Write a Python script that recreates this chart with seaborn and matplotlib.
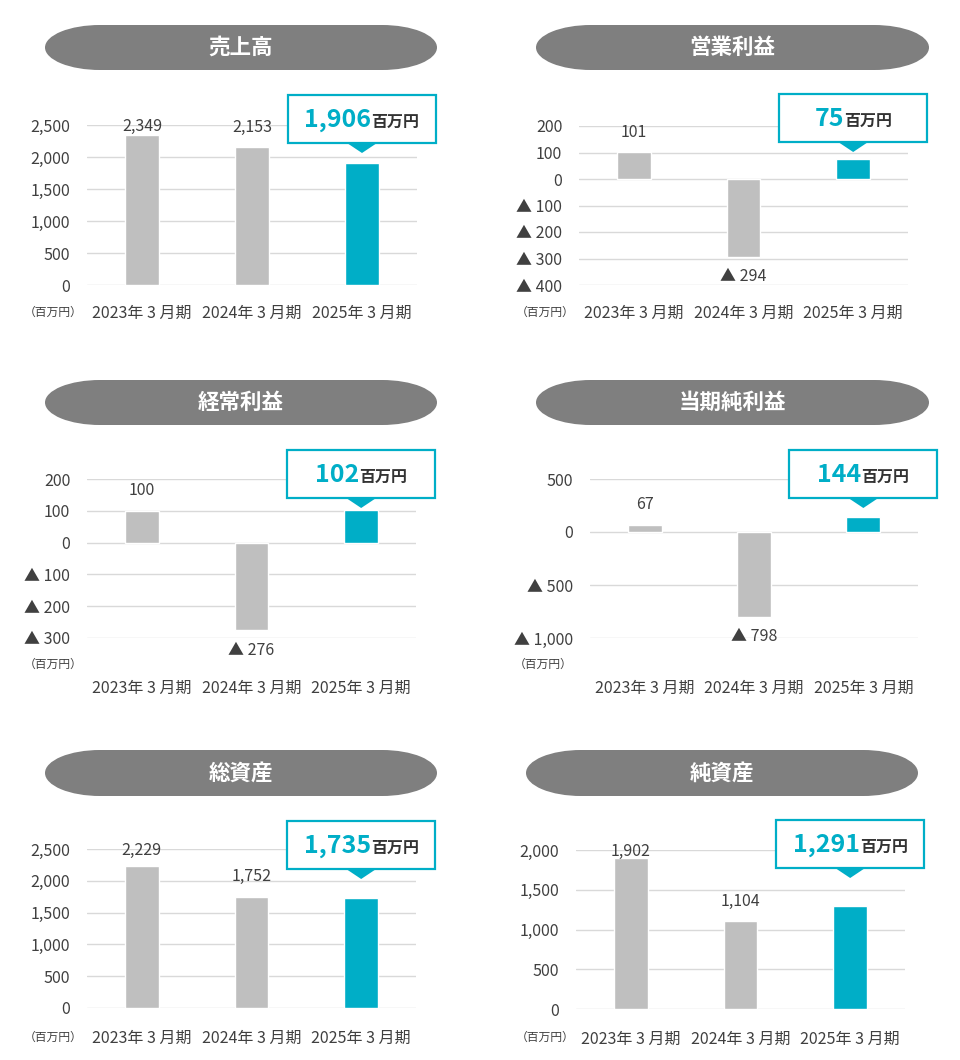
import matplotlib
matplotlib.use('Agg')
import matplotlib.pyplot as plt
from matplotlib.patches import Ellipse, Rectangle, Polygon
import seaborn as sns
import pandas as pd

# data (百万円)
periods = ['2023年 3 月期', '2024年 3 月期', '2025年 3 月期']
sales = [2349, 2153, 1906]
operating_income = [101, -294, 75]
ordinary_income = [100, -276, 102]
net_income = [67, -798, 144]
total_assets = [2229, 1752, 1735]
net_assets = [1902, 1104, 1291]

titles = ['売上高', '営業利益', '経常利益', '当期純利益', '総資産', '純資産']
series = [sales, operating_income, ordinary_income, net_income, total_assets, net_assets]
y_ticks = [
    [0, 500, 1000, 1500, 2000, 2500],
    [-400, -300, -200, -100, 0, 100, 200],
    [-300, -200, -100, 0, 100, 200],
    [-1000, -500, 0, 500],
    [0, 500, 1000, 1500, 2000, 2500],
    [0, 500, 1000, 1500, 2000],
]
unit = '百万円'

GRAY = '#BFBFBF'
CYAN = '#00AEC7'
PILL = '#7F7F7F'
TEXT = '#404040'

# layout in pixels: axes (left, right, top, bottom), pill (x0, x1, y0, y1),
# callout top, unit label (x, y), x tick pad (pt)
layout = [
    dict(ax=(87, 417, 125, 285), pill=(45, 437, 25, 70), box_top=95, unit=(53, 312), pad=14),
    dict(ax=(579, 908, 126, 285), pill=(536, 929, 25, 70), box_top=94, unit=(545, 312), pad=14),
    dict(ax=(87, 416, 479, 638), pill=(45, 437, 380, 425), box_top=450, unit=(53, 664), pad=30),
    dict(ax=(590, 918, 479, 638), pill=(536, 929, 380, 425), box_top=450, unit=(543, 664), pad=30),
    dict(ax=(87, 416, 849, 1008), pill=(45, 437, 750, 796), box_top=821, unit=(53, 1037), pad=16),
    dict(ax=(576, 905, 850, 1009), pill=(526, 918, 750, 796), box_top=820, unit=(545, 1037), pad=16),
]

W, H = 960, 1060

sns.set_theme(style='white')
plt.rcParams['font.family'] = ['Noto Sans CJK JP', 'DejaVu Sans']


def fmt(v):
    return f'▲ {-v:,}' if v < 0 else f'{v:,}'


fig = plt.figure(figsize=(W / 100, H / 100), dpi=100)
fig.patch.set_facecolor('white')

axes = []
for vals, ticks, lay in zip(series, y_ticks, layout):
    l, r, t, b = lay['ax']
    ax = fig.add_axes([l / W, 1 - b / H, (r - l) / W, (b - t) / H])
    df = pd.DataFrame({'period': periods, 'value': vals})
    sns.barplot(data=df, x='period', y='value', hue='period',
                palette=[GRAY, GRAY, CYAN], legend=False, width=0.31,
                saturation=1, ax=ax)
    ymin, ymax = ticks[0], ticks[-1]
    ax.set_ylim(ymin, ymax)
    ax.set_xlim(-0.5, 2.5)
    ax.set_yticks(ticks)
    ax.set_yticklabels([fmt(v) for v in ticks])
    ax.set_xlabel('')
    ax.set_ylabel('')
    ax.yaxis.grid(True, color='#D9D9D9', lw=1)
    ax.set_axisbelow(True)
    for s in ax.spines.values():
        s.set_visible(False)
    ax.tick_params(axis='y', length=0, pad=12, labelsize=11.5, labelcolor=TEXT)
    ax.tick_params(axis='x', length=0, pad=lay['pad'], labelsize=11.5, labelcolor=TEXT)
    ax.patch.set_alpha(0)

    dpp = (ymax - ymin) / (b - t)
    for i, v in enumerate(vals[:2]):
        if v >= 0:
            y = min(v + 20 * dpp, ymax - 1.5 * dpp)
        else:
            y = v - 20 * dpp
        ax.text(i, y, fmt(v), ha='center', va='center', fontsize=11.5, color=TEXT)
    axes.append(ax)

# overlay in pixel coordinates for headers and callouts
ov = fig.add_axes([0, 0, 1, 1])
ov.set_xlim(0, W)
ov.set_ylim(H, 0)
ov.axis('off')

renderer = fig.canvas.get_renderer()

for ax, title, vals, lay in zip(axes, titles, series, layout):
    # pill header
    x0, x1, y0, y1 = lay['pill']
    ph = y1 - y0
    rx = 55
    cy = (y0 + y1) / 2
    ov.add_patch(Ellipse((x0 + rx, cy), 2 * rx, ph, color=PILL, lw=0))
    ov.add_patch(Ellipse((x1 - rx, cy), 2 * rx, ph, color=PILL, lw=0))
    ov.add_patch(Rectangle((x0 + rx, y0), x1 - x0 - 2 * rx, ph, color=PILL, lw=0))
    ov.text((x0 + x1) / 2, cy, title, ha='center', va='center',
            fontsize=15.5, fontweight='bold', color='white')

    # unit label
    ux, uy = lay['unit']
    ov.text(ux, uy, f'（{unit}）', ha='center', va='center', fontsize=8.5, color=TEXT)

    # callout above latest bar
    bx = ax.transData.transform((2, 0))[0]
    bw, bh = 148, 48
    top = lay['box_top']
    ov.add_patch(Rectangle((bx - bw / 2, top), bw, bh, facecolor='white',
                           edgecolor=CYAN, lw=1.6, zorder=3))
    ov.add_patch(Polygon([(bx - 15, top + bh), (bx + 15, top + bh), (bx, top + bh + 10)],
                         closed=True, color=CYAN, lw=0, zorder=3))
    base = top + bh / 2 + 8
    t1 = ov.text(0, base, f'{vals[2]:,}', ha='left', va='baseline', fontsize=18,
                 fontweight='bold', color=CYAN, zorder=4)
    t2 = ov.text(0, base, unit, ha='left', va='baseline', fontsize=11.5,
                 fontweight='bold', color='#333333', zorder=4)
    w1 = t1.get_window_extent(renderer).width
    w2 = t2.get_window_extent(renderer).width
    start = bx - (w1 + w2) / 2
    t1.set_x(start)
    t2.set_x(start + w1)

plt.savefig('out.png', dpi=100)
plt.close()
